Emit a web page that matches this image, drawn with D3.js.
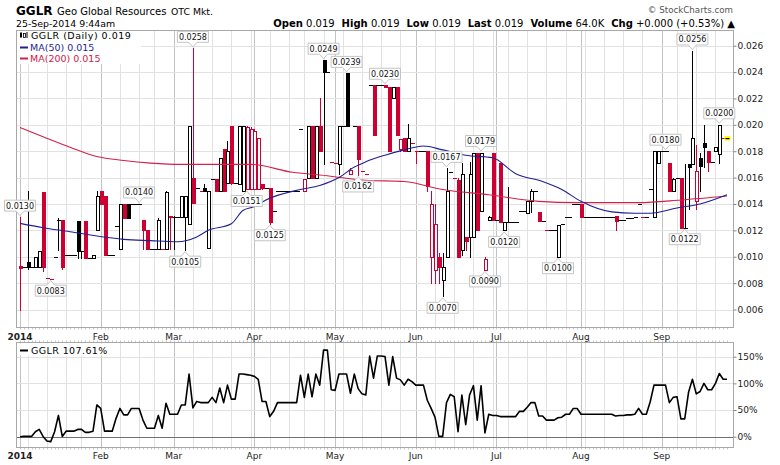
<!DOCTYPE html>
<html><head><meta charset="utf-8">
<script src="https://cdn.jsdelivr.net/npm/d3@7"></script>
<style>
body{margin:0;background:#fff}
svg{display:block}
text{font-family:"DejaVu Sans",Verdana,sans-serif}
</style>
</head><body>
<svg id="c" width="780" height="465"></svg>
<script>
// ---------------- DATA ----------------
const symbol = "GGLR";
const companyName = "Geo Global Resources";
const exchange = "OTC Mkt.";
const stamp = "25-Sep-2014 9:44am";
const statLabels = ["Open","High","Low","Last","Volume","Chg"];
const statValues = ["0.019","0.019","0.019","0.019","64.0K","+0.000 (+0.53%) \u25B2"];
const legendMain = ["GGLR (Daily) 0.019","MA(50) 0.015","MA(200) 0.015"];
const legendPerf = "GGLR 107.61%";

const holidays = ["2014-01-01","2014-01-20","2014-02-17","2014-04-18","2014-05-26","2014-07-04","2014-09-01"];
const firstDay = "2014-01-02", lastDay = "2014-09-25";
const prevClose = 0.0095;

const open = [
.0093,.0092,.0096,.0092,.0092,.0092,.0149,.0084,.0083,.0100,
.0128,.0128,.0101,.0101,.0101,.0127,.0104,.0127,.0099,.0099,
.0120,.0150,.0146,.0101,.0101,.0123,.0106,.0140,.0140,.0140,
.0140,.0140,.0128,.0120,.0106,.0106,.0106,.0106,.0106,.0131,
.0130,.0130,.0130,.0130,.0125,.0160,.0152,.0150,.0152,.0107,
.0159,.0159,.0150,.0182,.0156,.0199,.0156,.0155,.0150,.0151,
.0151,.0151,.0151,.0155,.0152,.0152,.0135,.0150,.0150,.0150,
.0150,.0150,.0150,.0197,.0150,.0160,.0199,.0160,.0199,.0249,
.0240,.0172,.0171,.0170,.0199,.0239,.0163,.0199,.0199,.0165,
.0163,.0230,.0230,.0230,.0230,.0230,.0229,.0220,.0229,.0182,
.0190,.0180,.0186,.0180,.0180,.0180,.0180,.0100,.0090,.0100,
.0082,.0100,.0164,.0160,.0158,.0105,.0115,.0115,.0115,.0179,
.0135,.0090,.0128,.0179,.0128,.0171,.0120,.0126,.0126,.0126,
.0135,.0135,.0133,.0142,.0150,.0134,.0127,.0120,.0120,.0120,
.0100,.0125,.0130,.0130,.0140,.0140,.0140,.0130,.0130,.0130,
.0130,.0130,.0130,.0130,.0130,.0131,.0128,.0128,.0129,.0129,
.0130,.0140,.0130,.0130,.0151,.0130,.0171,.0180,.0180,.0171,
.0150,.0160,.0160,.0122,.0170,.0170,.0142,.0175,.0186,.0180,
.0172,.0180,.0178,.0190,.0190];
const high = [
.0130,.0092,.0150,.0092,.0100,.0104,.0149,.0084,.0083,.0100,
.0129,.0128,.0101,.0101,.0101,.0127,.0104,.0127,.0099,.0101,
.0150,.0150,.0146,.0101,.0101,.0123,.0140,.0140,.0140,.0140,
.0140,.0140,.0128,.0120,.0106,.0106,.0129,.0106,.0150,.0131,
.0131,.0130,.0146,.0146,.0199,.0258,.0152,.0150,.0155,.0150,
.0159,.0159,.0175,.0182,.0188,.0199,.0156,.0199,.0199,.0199,
.0198,.0197,.0190,.0155,.0152,.0152,.0135,.0150,.0150,.0150,
.0150,.0150,.0150,.0197,.0159,.0199,.0199,.0199,.0220,.0249,
.0240,.0172,.0171,.0199,.0199,.0239,.0167,.0199,.0199,.0165,
.0163,.0230,.0230,.0230,.0230,.0230,.0229,.0229,.0229,.0189,
.0190,.0201,.0186,.0180,.0180,.0180,.0180,.0150,.0140,.0103,
.0103,.0167,.0164,.0160,.0160,.0171,.0115,.0172,.0179,.0179,
.0179,.0100,.0131,.0179,.0128,.0171,.0126,.0153,.0126,.0126,
.0135,.0135,.0142,.0151,.0150,.0134,.0127,.0120,.0120,.0120,
.0124,.0125,.0130,.0130,.0140,.0140,.0140,.0130,.0130,.0130,
.0130,.0130,.0130,.0130,.0130,.0131,.0128,.0128,.0129,.0129,
.0130,.0140,.0130,.0130,.0151,.0180,.0180,.0180,.0180,.0171,
.0160,.0160,.0160,.0170,.0170,.0256,.0185,.0179,.0200,.0180,
.0172,.0183,.0200,.0190,.0190];
const low = [
.0060,.0092,.0091,.0092,.0092,.0092,.0089,.0084,.0083,.0100,
.0105,.0091,.0101,.0101,.0101,.0099,.0099,.0099,.0099,.0099,
.0120,.0140,.0101,.0101,.0101,.0123,.0106,.0129,.0129,.0140,
.0140,.0140,.0106,.0106,.0106,.0106,.0106,.0106,.0106,.0106,
.0106,.0130,.0130,.0105,.0125,.0141,.0152,.0150,.0150,.0107,
.0159,.0150,.0150,.0150,.0156,.0155,.0156,.0155,.0150,.0151,
.0151,.0151,.0151,.0151,.0152,.0125,.0135,.0150,.0150,.0150,
.0150,.0150,.0150,.0197,.0150,.0160,.0160,.0160,.0180,.0170,
.0240,.0172,.0171,.0163,.0199,.0199,.0163,.0199,.0162,.0165,
.0163,.0230,.0192,.0230,.0230,.0229,.0180,.0220,.0192,.0180,
.0180,.0180,.0186,.0171,.0180,.0180,.0150,.0080,.0080,.0080,
.0070,.0100,.0164,.0160,.0100,.0101,.0105,.0100,.0115,.0120,
.0135,.0090,.0128,.0128,.0128,.0126,.0120,.0126,.0126,.0126,
.0135,.0135,.0133,.0134,.0150,.0127,.0127,.0120,.0120,.0120,
.0100,.0125,.0130,.0130,.0140,.0140,.0130,.0130,.0130,.0130,
.0130,.0130,.0130,.0130,.0130,.0120,.0128,.0128,.0129,.0129,
.0130,.0140,.0130,.0130,.0151,.0130,.0171,.0180,.0180,.0150,
.0150,.0160,.0122,.0122,.0136,.0170,.0136,.0150,.0168,.0165,
.0172,.0180,.0171,.0190,.0190];
const close = [
.00915,.0092,.0092,.0092,.0100,.0104,.0092,.0084,.0083,.0100,
.0128,.0092,.0101,.0101,.0101,.0104,.0104,.0099,.0099,.0101,
.0146,.0140,.0101,.0101,.0101,.0123,.0140,.0129,.0129,.0140,
.0140,.0140,.0120,.0106,.0106,.0106,.0128,.0106,.0149,.0130,
.0130,.0130,.0146,.0146,.0199,.0141,.0152,.0150,.0150,.0150,
.0159,.0150,.0175,.0150,.0180,.0156,.0156,.0199,.0199,.0198,
.0197,.0195,.0190,.0152,.0152,.0126,.0135,.0150,.0150,.0150,
.0150,.0150,.0150,.0197,.0159,.0199,.0160,.0199,.0180,.0240,
.0240,.0172,.0171,.0199,.0199,.0199,.0166,.0199,.0174,.0165,
.0163,.0230,.0192,.0230,.0230,.0229,.0180,.0229,.0192,.0189,
.0180,.0190,.0186,.0180,.0180,.0180,.0154,.0140,.0125,.0092,
.0092,.0150,.0164,.0160,.0100,.0163,.0112,.0163,.0179,.0120,
.0179,.0098,.0130,.0128,.0128,.0126,.0126,.0126,.0126,.0126,
.0135,.0135,.0142,.0150,.0150,.0127,.0127,.0120,.0120,.0120,
.0124,.0125,.0130,.0130,.0140,.0140,.0130,.0130,.0130,.0130,
.0130,.0130,.0130,.0130,.0130,.0127,.0128,.0128,.0129,.0129,
.0130,.0140,.0130,.0130,.0151,.0180,.0180,.0180,.0180,.0150,
.0159,.0160,.0122,.0122,.0168,.0190,.0165,.0169,.0183,.0172,
.0172,.0183,.0200,.0190,.0190];

// moving averages (trading-day index, value)
const ma50Idx = [0,6,13,20,27,34,41,46,49,55,58,61,64,73,78,83,87,90,95,100,105,110,116,123,129,136,141,146,154,160,164,171,177,184];
const ma50Val = [.01253,.0122,.0119,.01157,.01132,.01122,.01114,.0115,.0120,.0125,.0135,.0138,.0143,.0151,.0154,.0160,.0168,.0172,.0177,.0181,.0184,.0181,.0177,.0175,.0163,.0157,.0151,.0142,.0134,.0133,.0133,.0137,.0140,.0147];
const ma200Idx = [0,6,13,20,27,34,42,50,60,71,78,90,100,110,122,135,145,161,172,184];
const ma200Val = [.0198,.0191,.0183,.0176,.0173,.0171,.0170,.0170,.0170,.0164,.0162,.0158,.0157,.0151,.0147,.0142,.0141,.0141,.0143,.0146];

const highLabelIdx = [0,31,45,79,85,95,111,120,168,175,182];
const lowLabelIdx = [8,43,59,65,88,110,121,126,140,173];

const priceTicks = [0.006,0.008,0.010,0.012,0.014,0.016,0.018,0.020,0.022,0.024,0.026];
const perfTicks = [0,50,100,150];

// ---------------- CHART ----------------
const RED = "#cc0033", BLK = "#000";
const svg = d3.select("#c");
const parse = d3.utcParse("%Y-%m-%d"), fmt = d3.utcFormat("%Y-%m-%d");
const dates = d3.utcDays(parse(firstDay), d3.utcDay.offset(parse(lastDay), 1))
  .filter(d => d.getUTCDay() % 6 !== 0 && !holidays.includes(fmt(d)));
const n = dates.length;

const L = 16.5, R = 733.5, T1 = 30.5, B1 = 327.5, T2 = 342.5, B2 = 447.5;
const x = d3.scaleLinear().domain([0, n - 1]).range([20, 727]);
const y = d3.scaleLinear().domain([0.006, 0.026]).range([309.5, 45.7]);
const y2 = d3.scaleLinear().domain([0, 150]).range([436.7, 356.7]);

const monthIdx = d3.range(n).filter(i => i === 0 || dates[i].getUTCMonth() !== dates[i-1].getUTCMonth());
const weekIdx = d3.range(n).filter(i => i > 0 && +d3.utcMonday.floor(dates[i]) !== +d3.utcMonday.floor(dates[i-1]) && !monthIdx.includes(i));
const px = i => Math.round(x(i)) + 0.5;

svg.append("defs").html(
  `<clipPath id="cm"><rect x="${L}" y="${T1}" width="${R-L}" height="${B1-T1}"/></clipPath>
   <clipPath id="cp"><rect x="${L}" y="${T2}" width="${R-L}" height="${B2-T2}"/></clipPath>`);

// grids
function vgrid(top, bot) {
  const g = svg.append("g");
  g.selectAll(".w").data(weekIdx).join("line")
    .attr("x1", px).attr("x2", px).attr("y1", top).attr("y2", bot)
    .attr("stroke", "#e2e2e2");
  g.selectAll(".m").data(monthIdx).join("line")
    .attr("x1", px).attr("x2", px).attr("y1", top).attr("y2", bot)
    .attr("stroke", "#c2c2c2");
}
vgrid(T1, B1); vgrid(T2, B2);
svg.append("g").selectAll("line").data(priceTicks).join("line")
  .attr("x1", L).attr("x2", R)
  .attr("y1", d => Math.round(y(d)) + 0.5).attr("y2", d => Math.round(y(d)) + 0.5)
  .attr("stroke", "#e2e2e2");
svg.append("g").selectAll("line").data(perfTicks).join("line")
  .attr("x1", L).attr("x2", R)
  .attr("y1", d => Math.round(y2(d)) + 0.5).attr("y2", d => Math.round(y2(d)) + 0.5)
  .attr("stroke", d => d === 0 ? "#707070" : "#e2e2e2");

// day ticks (dotted rows)
[[B1, B1 + 2], [T2 - 2, T2], [B2, B2 + 2]].forEach(([a, b]) => {
  svg.append("g").selectAll("line").data(d3.range(n)).join("line")
    .attr("x1", px).attr("x2", px).attr("y1", a).attr("y2", b)
    .attr("stroke", "#c8c8c8");
});

// frames
svg.append("rect").attr("x", L).attr("y", T1).attr("width", R - L).attr("height", B1 - T1)
  .attr("fill", "none").attr("stroke", "#a8a8a8");
svg.append("rect").attr("x", L).attr("y", T2).attr("width", R - L).attr("height", B2 - T2)
  .attr("fill", "none").attr("stroke", "#a8a8a8");

// candles
const cg = svg.append("g").attr("clip-path", "url(#cm)").attr("shape-rendering", "crispEdges");
d3.range(n).forEach(i => {
  const pc = i === 0 ? prevClose : close[i-1];
  const col = close[i] < pc ? RED : BLK;
  const cx = px(i);
  const o = open[i], c = close[i];
  if (high[i] > Math.max(o, c) || low[i] < Math.min(o, c)) {
    cg.append("line").attr("x1", cx).attr("x2", cx)
      .attr("y1", Math.round(y(high[i]))).attr("y2", Math.round(y(low[i])) + 1)
      .attr("stroke", col);
  }
  const yt = Math.round(y(Math.max(o, c))), yb = Math.round(y(Math.min(o, c)));
  if (yb - yt < 1) {
    cg.append("rect").attr("x", cx - 2).attr("y", yt).attr("width", 4).attr("height", 1.2).attr("fill", col);
  } else if (c > o) {
    cg.append("rect").attr("x", cx - 1.5).attr("y", yt + 0.5).attr("width", 3).attr("height", yb - yt)
      .attr("fill", "#fff").attr("stroke", col);
  } else {
    cg.append("rect").attr("x", cx - 2).attr("y", yt).attr("width", 4).attr("height", yb - yt + 1).attr("fill", col);
  }
});
// last-bar marker
{
  const i = n - 1, cx = px(i), yc = Math.round(y(close[i]));
  svg.append("rect").attr("x", cx - 3).attr("y", yc - 2).attr("width", 6).attr("height", 4.5).attr("fill", "#ffff00");
  svg.append("rect").attr("x", cx - 2).attr("y", yc).attr("width", 4).attr("height", 1.2).attr("fill", BLK);
}

// moving averages
const mline = d3.line().x(d => x(d[0])).y(d => y(d[1])).curve(d3.curveMonotoneX);
svg.append("path").attr("clip-path", "url(#cm)")
  .attr("d", mline(ma200Idx.map((d, k) => [d, ma200Val[k]])))
  .attr("fill", "none").attr("stroke", "#d2204a").attr("stroke-width", 1.1);
svg.append("path").attr("clip-path", "url(#cm)")
  .attr("d", mline(ma50Idx.map((d, k) => [d, ma50Val[k]])))
  .attr("fill", "none").attr("stroke", "#1f1f96").attr("stroke-width", 1.1);

// hi/lo annotation boxes
function annot(i, isHigh) {
  const v = isHigh ? high[i] : low[i];
  const cx = x(i), bw = 15.5;
  const g = svg.append("g");
  let p, ty;
  if (isHigh) {
    const tip = y(v) - 1.5, bb = tip - 4.5, bt = bb - 11;
    p = `M${cx-bw},${bt}H${cx+bw}V${bb}H${cx+4}L${cx},${tip}L${cx-4},${bb}H${cx-bw}Z`;
    ty = bb - 2.6;
  } else {
    const tip = y(v) + 1.5, bt = tip + 4.5, bb = bt + 11;
    p = `M${cx-bw},${bt}H${cx-4}L${cx},${tip}L${cx+4},${bt}H${cx+bw}V${bb}H${cx-bw}Z`;
    ty = bb - 2.6;
  }
  g.append("path").attr("d", p).attr("fill", "#fff").attr("stroke", "#c4c4c4");
  g.append("text").attr("x", cx).attr("y", ty).attr("text-anchor", "middle")
    .attr("font-size", "8px").attr("fill", "#111").text(v.toFixed(4));
}
highLabelIdx.forEach(i => annot(i, true));
lowLabelIdx.forEach(i => annot(i, false));

// performance line
const perf = close.map(c => (c / close[0] - 1) * 100);
svg.append("path").attr("clip-path", "url(#cp)")
  .attr("d", d3.line().x((d, i) => x(i)).y(d => y2(d))(perf))
  .attr("fill", "none").attr("stroke", "#000").attr("stroke-width", 1.6).attr("stroke-linejoin", "round");

// axes
const ay = svg.append("g").attr("transform", `translate(${R},0)`)
  .call(d3.axisRight(y).tickValues(priceTicks).tickFormat(d3.format(".3f")).tickSize(3).tickPadding(1));
const ay2 = svg.append("g").attr("transform", `translate(${R},0)`)
  .call(d3.axisRight(y2).tickValues(perfTicks).tickFormat(d => d + "%").tickSize(3).tickPadding(1));
[ay, ay2].forEach(a => {
  a.select(".domain").remove();
  a.selectAll("line").attr("stroke", "#888");
  a.selectAll("text").attr("font-size", "9px").attr("fill", "#222").attr("font-family", "DejaVu Sans");
});

// month labels
[340, 459].forEach(yy => {
  svg.append("g").selectAll("text").data(monthIdx).join("text")
    .attr("x", i => x(i)).attr("y", yy).attr("text-anchor", "middle")
    .attr("font-size", "9px").attr("fill", "#222")
    .attr("font-weight", i => i === 0 ? "bold" : "normal")
    .text(i => i === 0 ? d3.utcFormat("%Y")(dates[i]) : d3.utcFormat("%b")(dates[i]));
});

// legends
svg.append("rect").attr("x", 17).attr("y", 31).attr("width", 124).attr("height", 33).attr("fill", "#fff");
const lg = svg.append("g").attr("font-size", "9.5px");
lg.append("rect").attr("x", 20).attr("y", 32.5).attr("width", 2).attr("height", 5).attr("fill", "#000");
lg.append("rect").attr("x", 23.5).attr("y", 33.5).attr("width", 2).attr("height", 4).attr("fill", "#fff").attr("stroke", "#000").attr("stroke-width", 0.8);
lg.append("line").attr("x1", 27).attr("x2", 27).attr("y1", 32).attr("y2", 38).attr("stroke", "#000");
lg.append("text").attr("x", 31).attr("y", 39).attr("fill", "#000").attr("letter-spacing", "0.5px").text(legendMain[0]);
lg.append("line").attr("x1", 20).attr("x2", 28).attr("y1", 47.5).attr("y2", 47.5).attr("stroke", "#1f1f96").attr("stroke-width", 2);
lg.append("text").attr("x", 30).attr("y", 51).attr("fill", "#1f1f96").text(legendMain[1]);
lg.append("line").attr("x1", 20).attr("x2", 28).attr("y1", 58.5).attr("y2", 58.5).attr("stroke", "#d2204a").attr("stroke-width", 2);
lg.append("text").attr("x", 30).attr("y", 62).attr("fill", "#d2204a").text(legendMain[2]);

svg.append("rect").attr("x", 17).attr("y", 343.5).attr("width", 100).attr("height", 12).attr("fill", "#fff");
svg.append("line").attr("x1", 20).attr("x2", 28).attr("y1", 350.5).attr("y2", 350.5).attr("stroke", "#000").attr("stroke-width", 2);
svg.append("text").attr("x", 31).attr("y", 354).attr("font-size", "9.5px").attr("fill", "#000").attr("letter-spacing", "0.4px").text(legendPerf);

// header
svg.append("text").attr("x", 16).attr("y", 14.5).attr("font-size", "12px").attr("font-weight", "bold").text(symbol);
svg.append("text").attr("x", 57).attr("y", 14.5).attr("font-size", "10px").text(companyName);
svg.append("text").attr("x", 171).attr("y", 14.5).attr("font-size", "9.3px").text(exchange);
svg.append("text").attr("x", 16).attr("y", 26.5).attr("font-size", "9.4px").text(stamp);
svg.append("text").attr("x", 733).attr("y", 13).attr("text-anchor", "end").attr("font-size", "8.7px").attr("fill", "#555").text("\u00A9 StockCharts.com");
const st = svg.append("text").attr("x", 735).attr("y", 26.5).attr("text-anchor", "end").attr("font-size", "10px");
statLabels.forEach((l, k) => {
  st.append("tspan").attr("font-weight", "bold").text((k ? "  " : "") + l);
  st.append("tspan").text(" " + statValues[k]);
});
st.attr("xml:space", "preserve").style("white-space", "pre");
</script>
</body></html>
